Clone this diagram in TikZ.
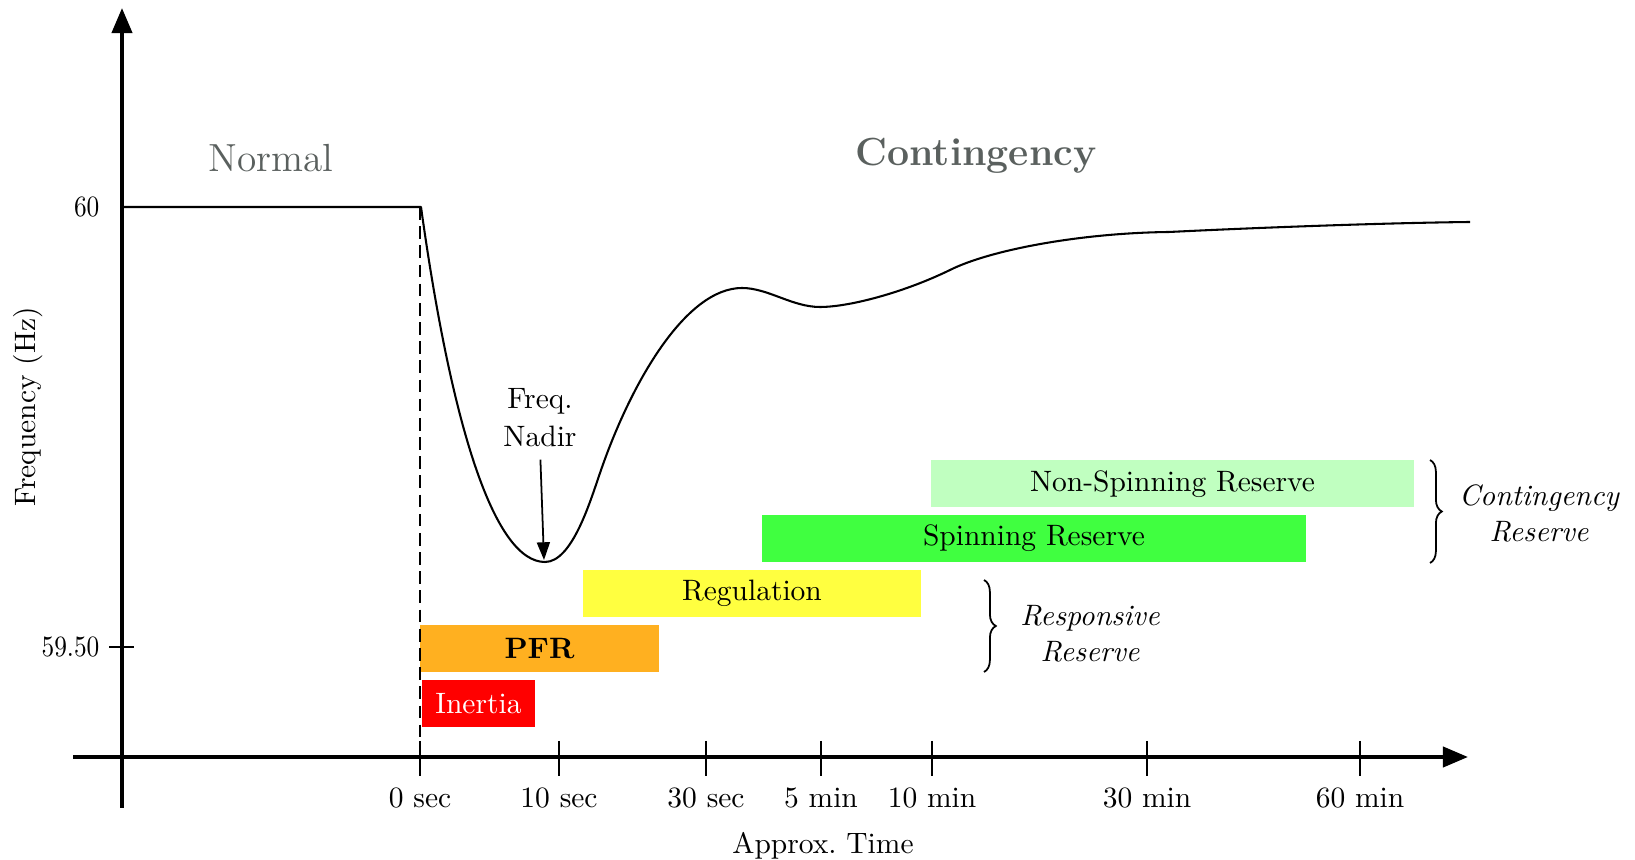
\documentclass[tikz,border=0pt]{standalone}
\usepackage{graphicx}
\usetikzlibrary{arrows.meta,decorations.pathreplacing}
% one drawing unit
\newcommand\pxu{0.339pt}
% narrow digits for the frequency axis
\newcommand\narrowlab[1]{\scalebox{0.86}[1]{#1}}
\definecolor{inertiared}{RGB}{255,0,0}
\definecolor{pfrorange}{RGB}{255,176,32}
\definecolor{regyellow}{RGB}{255,255,64}
\definecolor{spingreen}{RGB}{64,255,64}
\definecolor{nonspingreen}{RGB}{192,255,192}
\definecolor{headgray}{RGB}{90,96,94}
\begin{document}
\begin{tikzpicture}[x=\pxu,y=-\pxu,
  axisline/.style={line width=1.35pt,-{Triangle[length=8.5pt,width=6.8pt]}},
  tickmark/.style={line width=0.65pt},
  freqcurve/.style={line width=0.7pt,line join=round},
  bar/.style={inner sep=0pt,minimum height=47*\pxu,font=\fontsize{10}{12}\selectfont},
  ticklabel/.style={anchor=base,inner sep=0pt,font=\fontsize{10}{12}\selectfont},
  reservelabel/.style={align=center,inner sep=0pt,font=\fontsize{10}{12.2}\selectfont\itshape},
  bracedeco/.style={decorate,decoration={brace,amplitude=4pt},line width=0.6pt},
  heading/.style={anchor=base,inner sep=0pt,text=headgray,font=\fontsize{13.3}{16}\selectfont}]
\useasboundingbox (0,0) rectangle (1635,860);

% reserve bars
\node[bar,fill=nonspingreen,minimum width=483*\pxu] (nonspin) at (1172.5,484) {Non-Spinning Reserve};
\node[bar,fill=spingreen,minimum width=544*\pxu] (spin) at (1034,538.5) {Spinning Reserve};
\node[bar,fill=regyellow,minimum width=338*\pxu] (reg) at (752,593.5) {Regulation};
\node[bar,fill=pfrorange,minimum width=239*\pxu,font=\fontsize{10}{12}\selectfont\bfseries] (pfr) at (539.5,648.5) {PFR};
\node[bar,fill=inertiared,text=white,minimum width=113*\pxu] (inertia) at (478.5,703.5) {Inertia};

% event instant
\draw[line width=0.45pt,dash pattern=on 4.3pt off 2.2pt] (420,207) -- (420,757);

% axes
\draw[axisline] (122,808) -- (122,8);
\draw[axisline] (73,757) -- (1468,757);

% time ticks and labels
\foreach \x/\lab in {420/0 sec,559/10 sec,706/30 sec,821/5 min,932/10 min,1147/30 min,1360/60 min}{
  \draw[tickmark] (\x,741) -- (\x,776);
  \node[ticklabel] (t\x) at (\x,808) {\lab};
}
\node[anchor=base,inner sep=0pt,font=\fontsize{10}{12}\selectfont] (xlabel) at (823,854) {Approx.\ Time};

% frequency ticks and labels
\draw[tickmark] (109,647) -- (134,647);
\node[anchor=east,inner sep=0pt,font=\fontsize{10}{12}\selectfont] (f60) at (100,207) {\narrowlab{60}};
\node[anchor=east,inner sep=0pt,font=\fontsize{10}{12}\selectfont] (f595) at (100,647) {\narrowlab{59.50}};
\node[rotate=90,inner sep=0pt,font=\fontsize{10}{12}\selectfont] (ylabel) at (28,407) {Frequency (Hz)};

% frequency response
\draw[freqcurve] (122,207) -- (421,207)
  .. controls (452,430) and (495,562) .. (545,562)
  .. controls (572,562) and (590,502) .. (600,473)
  .. controls (630,385) and (685,288) .. (742,288)
  .. controls (768,288) and (792,307) .. (820,307)
  .. controls (850,307) and (905,292) .. (950,270)
  .. controls (990,250) and (1080,233) .. (1169,232)
  .. controls (1250,228) and (1380,223) .. (1470,222);

% nadir annotation
\node[align=center,inner sep=0pt,font=\fontsize{10}{12.9}\selectfont] (nadirlbl) at (540,418) {Freq.\\Nadir};
\coordinate (nadir) at (544,560);
\draw[line width=0.6pt,-{Triangle[length=6pt,width=4.4pt]},shorten <=4pt] (nadirlbl.south) -- (nadir);

% headings
\node[heading] (normal) at (271,172) {Normal};
\node[heading,font=\fontsize{13.3}{16}\selectfont\bfseries] (contingency) at (976,166) {Contingency};

% reserve groupings
\coordinate (cbtop) at (1430,460);
\coordinate (cbbot) at (1430,563);
\draw[bracedeco] (cbtop) -- (cbbot);
\node[reservelabel] (contres) at (1539,513) {Contingency\\Reserve};
\coordinate (rbtop) at (984,580);
\coordinate (rbbot) at (984,672);
\draw[bracedeco] (rbtop) -- (rbbot);
\node[reservelabel] (respres) at (1090,634) {Responsive\\Reserve};
\end{tikzpicture}
\end{document}
